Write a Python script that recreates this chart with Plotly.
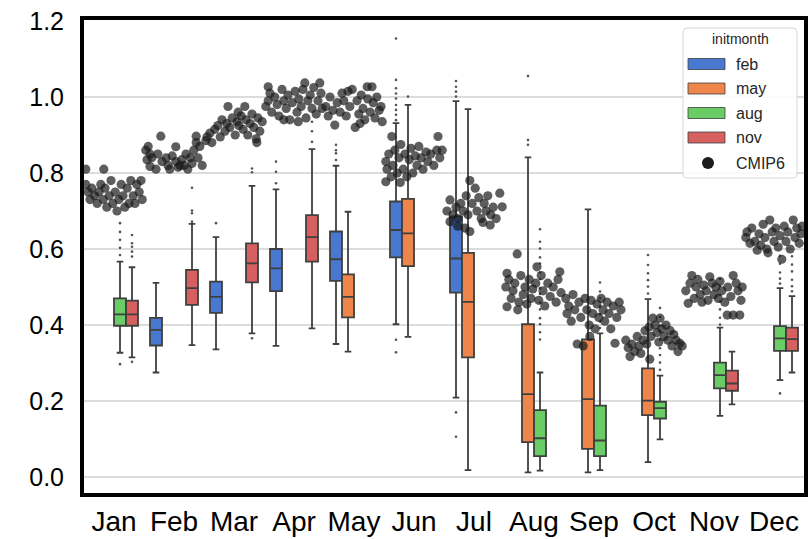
import plotly.graph_objects as go

# ---------------- data ----------------
months = ["Jan", "Feb", "Mar", "Apr", "May", "Jun", "Jul", "Aug", "Sep", "Oct", "Nov", "Dec"]
initmonths = ["feb", "may", "aug", "nov"]
y_ticks = [0.0, 0.2, 0.4, 0.6, 0.8, 1.0, 1.2]

# box statistics per initialisation month
feb_months = ["Feb", "Mar", "Apr", "May", "Jun", "Jul"]
feb_q1 = [0.346, 0.432, 0.489, 0.516, 0.578, 0.485]
feb_med = [0.387, 0.474, 0.549, 0.573, 0.650, 0.575]
feb_q3 = [0.419, 0.514, 0.600, 0.646, 0.725, 0.686]
feb_lo = [0.275, 0.336, 0.345, 0.350, 0.402, 0.209]
feb_hi = [0.511, 0.631, 0.757, 0.819, 0.931, 0.989]

may_months = ["May", "Jun", "Jul", "Aug", "Sep", "Oct"]
may_q1 = [0.420, 0.555, 0.315, 0.092, 0.074, 0.163]
may_med = [0.474, 0.641, 0.461, 0.218, 0.205, 0.201]
may_q3 = [0.533, 0.732, 0.590, 0.402, 0.362, 0.286]
may_lo = [0.330, 0.369, 0.018, 0.012, 0.012, 0.039]
may_hi = [0.698, 0.979, 0.968, 0.841, 0.704, 0.468]

aug_months = ["Jan", "Aug", "Sep", "Oct", "Nov", "Dec"]
aug_q1 = [0.398, 0.055, 0.055, 0.154, 0.233, 0.332]
aug_med = [0.428, 0.102, 0.096, 0.181, 0.268, 0.365]
aug_q3 = [0.470, 0.176, 0.188, 0.198, 0.301, 0.397]
aug_lo = [0.327, 0.017, 0.018, 0.099, 0.161, 0.255]
aug_hi = [0.567, 0.275, 0.378, 0.267, 0.393, 0.497]

nov_months = ["Jan", "Feb", "Mar", "Apr", "Nov", "Dec"]
nov_q1 = [0.398, 0.453, 0.512, 0.567, 0.227, 0.332]
nov_med = [0.428, 0.497, 0.562, 0.631, 0.246, 0.363]
nov_q3 = [0.464, 0.545, 0.615, 0.689, 0.280, 0.393]
nov_lo = [0.315, 0.347, 0.378, 0.391, 0.191, 0.275]
nov_hi = [0.552, 0.666, 0.766, 0.863, 0.330, 0.476]

# outliers (fliers) per initmonth / month
feb_fliers = {
    "Mar": [0.668],
    "Apr": [0.830, 0.803, 0.773],
    "May": [0.874, 0.860, 0.852, 0.834],
    "Jun": [1.154, 1.045, 1.023, 1.009, 0.996, 0.979, 0.966, 0.953, 0.939, 0.361, 0.328],
    "Jul": [1.042, 1.027, 1.014, 1.001, 0.170, 0.106],
}
may_fliers = {
    "Jun": [1.001],
    "Aug": [1.055, 0.887, 0.874],
    "Oct": [0.584, 0.558, 0.536, 0.518, 0.501, 0.483],
}
aug_fliers = {
    "Jan": [0.668, 0.645, 0.624, 0.603, 0.584, 0.297],
    "Aug": [0.652, 0.619, 0.601, 0.578, 0.562, 0.538, 0.521, 0.497, 0.482, 0.459, 0.441, 0.418, 0.402, 0.381, 0.362],
    "Sep": [0.512, 0.488, 0.471, 0.449, 0.428, 0.409, 0.392],
    "Oct": [0.445, 0.421, 0.398, 0.382, 0.361, 0.339, 0.321, 0.301, 0.282],
    "Nov": [0.521, 0.503, 0.479, 0.462, 0.441, 0.419, 0.401],
    "Dec": [0.582, 0.561, 0.538, 0.522, 0.509, 0.220],
}
nov_fliers = {
    "Jan": [0.637, 0.615, 0.606, 0.593, 0.580, 0.303],
    "Feb": [0.761, 0.701, 0.694, 0.672],
    "Mar": [0.812, 0.802, 0.365],
    "Apr": [0.935, 0.910, 0.882],
    "Dec": [0.581, 0.559, 0.541, 0.519, 0.502, 0.489],
}

# CMIP6 points: (jitter offset within month, value)
cmip6 = {
    "Jan": [(-0.47, 0.81), (-0.17, 0.81), (-0.47, 0.77), (-0.43, 0.75), (-0.40, 0.73), (-0.37, 0.76), (-0.32, 0.74),
            (-0.28, 0.72), (-0.25, 0.75), (-0.22, 0.77), (-0.18, 0.73), (-0.15, 0.76), (-0.12, 0.71), (-0.08, 0.74),
            (-0.05, 0.78), (-0.02, 0.72), (0.02, 0.75), (0.05, 0.70), (0.08, 0.73), (0.12, 0.77), (0.15, 0.74),
            (0.18, 0.71), (0.22, 0.76), (0.25, 0.72), (0.28, 0.78), (0.32, 0.74), (0.35, 0.72), (0.38, 0.77),
            (0.42, 0.75), (0.45, 0.78), (0.47, 0.73)],
    "Feb": [(-0.22, 0.897), (0.03, 0.869), (-0.47, 0.86), (-0.43, 0.87), (-0.40, 0.85), (-0.37, 0.84), (-0.45, 0.835),
            (-0.40, 0.817), (-0.30, 0.81), (-0.27, 0.85), (-0.20, 0.83), (-0.13, 0.84), (-0.10, 0.82), (-0.07, 0.81),
            (-0.03, 0.845), (0.03, 0.83), (0.07, 0.815), (0.13, 0.835), (0.17, 0.82), (0.20, 0.85), (0.23, 0.81),
            (0.27, 0.84), (0.30, 0.825), (0.33, 0.86), (0.37, 0.88), (0.40, 0.84), (0.43, 0.87), (0.47, 0.82),
            (0.37, 0.897), (0.10, 0.82)],
    "Mar": [(-0.10, 0.975), (0.18, 0.975), (-0.47, 0.885), (-0.45, 0.895), (-0.40, 0.905), (-0.37, 0.88), (-0.32, 0.915),
            (-0.27, 0.925), (-0.23, 0.895), (-0.20, 0.94), (-0.15, 0.91), (-0.12, 0.93), (-0.07, 0.92), (-0.03, 0.945),
            (0.02, 0.90), (0.05, 0.935), (0.08, 0.925), (0.12, 0.95), (0.15, 0.915), (0.20, 0.94), (0.23, 0.90),
            (0.27, 0.93), (0.30, 0.955), (0.33, 0.92), (0.37, 0.89), (0.40, 0.945), (0.43, 0.91), (0.47, 0.935),
            (0.38, 0.88), (0.07, 0.96)],
    "Apr": [(-0.43, 1.027), (0.18, 1.037), (0.43, 1.037), (-0.47, 0.975), (-0.43, 0.99), (-0.40, 1.01), (-0.37, 0.96),
            (-0.32, 1.00), (-0.28, 0.98), (-0.25, 0.95), (-0.20, 1.02), (-0.17, 0.99), (-0.13, 0.97), (-0.10, 1.005),
            (-0.07, 0.94), (-0.03, 0.985), (0.02, 1.015), (0.05, 0.96), (0.08, 0.995), (0.12, 0.975), (0.15, 1.02),
            (0.20, 0.945), (0.23, 0.99), (0.27, 1.005), (0.30, 0.97), (0.33, 1.025), (0.37, 0.955), (0.40, 0.99),
            (0.45, 1.01), (0.47, 0.97), (0.07, 0.935), (-0.17, 0.94)],
    "May": [(-0.20, 1.01), (-0.03, 1.02), (0.22, 1.027), (0.30, 1.027), (-0.47, 0.975), (-0.43, 0.95), (-0.40, 1.00),
            (-0.35, 0.965), (-0.32, 0.926), (-0.28, 0.985), (-0.23, 0.96), (-0.17, 0.99), (-0.13, 0.95), (-0.10, 1.015),
            (-0.07, 0.975), (0.02, 0.92), (0.05, 0.99), (0.08, 0.955), (0.12, 1.005), (0.15, 0.97), (0.18, 0.94),
            (0.23, 0.995), (0.27, 0.96), (0.32, 0.985), (0.35, 0.945), (0.38, 1.00), (0.42, 0.965), (0.45, 0.975),
            (0.47, 0.935), (0.10, 0.93)],
    "Jun": [(0.40, 0.896), (-0.37, 0.896), (-0.47, 0.777), (-0.47, 0.83), (-0.45, 0.81), (-0.42, 0.85), (-0.38, 0.79),
            (-0.35, 0.82), (-0.32, 0.86), (-0.28, 0.80), (-0.25, 0.84), (-0.22, 0.875), (-0.18, 0.81), (-0.15, 0.85),
            (-0.12, 0.79), (-0.08, 0.835), (-0.05, 0.865), (-0.02, 0.80), (0.02, 0.845), (0.05, 0.82), (0.08, 0.87),
            (0.12, 0.84), (0.15, 0.81), (0.20, 0.855), (0.23, 0.83), (0.28, 0.85), (0.33, 0.82), (0.38, 0.86),
            (0.43, 0.84), (0.47, 0.86), (-0.23, 0.775)],
    "Jul": [(0.43, 0.747), (0.47, 0.711), (-0.07, 0.78), (-0.40, 0.729), (-0.40, 0.672), (-0.07, 0.646), (0.27, 0.663),
            (-0.45, 0.70), (-0.35, 0.69), (-0.30, 0.71), (-0.27, 0.68), (-0.22, 0.72), (-0.18, 0.70), (-0.13, 0.74),
            (-0.10, 0.69), (-0.03, 0.72), (0.02, 0.76), (0.05, 0.70), (0.08, 0.735), (0.12, 0.68), (0.17, 0.72),
            (0.20, 0.70), (0.23, 0.74), (0.28, 0.69), (0.32, 0.71), (0.37, 0.68), (-0.27, 0.66), (-0.15, 0.655),
            (0.15, 0.67)],
    "Aug": [(-0.28, 0.587), (0.05, 0.553), (0.43, 0.54), (-0.45, 0.536), (-0.45, 0.448), (-0.47, 0.50), (-0.42, 0.52),
            (-0.38, 0.47), (-0.35, 0.49), (-0.32, 0.51), (-0.25, 0.46), (-0.22, 0.53), (-0.18, 0.48), (-0.15, 0.50),
            (-0.12, 0.455), (-0.08, 0.52), (-0.05, 0.47), (-0.02, 0.495), (0.03, 0.51), (0.08, 0.465), (0.12, 0.53),
            (0.15, 0.49), (0.18, 0.45), (0.23, 0.51), (0.27, 0.475), (0.32, 0.50), (0.37, 0.46), (0.40, 0.52),
            (0.45, 0.485), (-0.27, 0.44)],
    "Sep": [(-0.47, 0.47), (-0.45, 0.43), (-0.42, 0.45), (-0.38, 0.41), (-0.35, 0.48), (-0.32, 0.44), (-0.28, 0.35),
            (-0.25, 0.46), (-0.22, 0.42), (-0.18, 0.345), (-0.15, 0.47), (-0.12, 0.44), (-0.08, 0.40), (-0.05, 0.465),
            (-0.02, 0.43), (0.02, 0.39), (0.05, 0.455), (0.08, 0.42), (0.12, 0.47), (0.15, 0.44), (0.18, 0.41),
            (0.22, 0.46), (0.25, 0.43), (0.28, 0.39), (0.32, 0.45), (0.35, 0.352), (0.38, 0.42), (0.42, 0.46),
            (0.45, 0.44), (-0.07, 0.37)],
    "Oct": [(-0.02, 0.418), (0.10, 0.418), (-0.40, 0.317), (0.43, 0.352), (-0.18, 0.36), (-0.47, 0.36), (-0.43, 0.34),
            (-0.37, 0.35), (-0.32, 0.33), (-0.28, 0.37), (-0.25, 0.345), (-0.22, 0.325), (-0.15, 0.385), (-0.12, 0.35),
            (-0.08, 0.395), (-0.05, 0.37), (0.02, 0.40), (0.05, 0.38), (0.08, 0.355), (0.13, 0.39), (0.17, 0.37),
            (0.20, 0.40), (0.23, 0.36), (0.27, 0.385), (0.30, 0.345), (0.33, 0.375), (0.37, 0.36), (0.40, 0.33),
            (0.47, 0.345), (-0.07, 0.31)],
    "Nov": [(-0.37, 0.53), (-0.07, 0.527), (0.32, 0.53), (-0.43, 0.457), (0.22, 0.426), (0.32, 0.426), (0.43, 0.426),
            (-0.47, 0.49), (-0.40, 0.51), (-0.33, 0.47), (-0.30, 0.50), (-0.27, 0.52), (-0.23, 0.48), (-0.20, 0.46),
            (-0.17, 0.505), (-0.13, 0.49), (-0.10, 0.465), (-0.03, 0.51), (0.00, 0.48), (0.03, 0.50), (0.07, 0.47),
            (0.10, 0.515), (0.13, 0.49), (0.18, 0.46), (0.23, 0.50), (0.28, 0.475), (0.37, 0.51), (0.40, 0.49),
            (0.45, 0.465), (0.47, 0.50)],
    "Dec": [(-0.07, 0.676), (0.32, 0.676), (-0.45, 0.645), (-0.40, 0.615), (-0.28, 0.597), (0.13, 0.573), (-0.47, 0.63),
            (-0.37, 0.655), (-0.32, 0.62), (-0.25, 0.64), (-0.22, 0.61), (-0.18, 0.665), (-0.15, 0.63), (-0.12, 0.60),
            (-0.03, 0.645), (0.00, 0.62), (0.03, 0.655), (0.07, 0.605), (0.10, 0.635), (0.17, 0.66), (0.20, 0.62),
            (0.23, 0.645), (0.27, 0.60), (0.35, 0.63), (0.38, 0.655), (0.42, 0.615), (0.45, 0.64), (0.47, 0.66),
            (-0.10, 0.59)],
}

# ---------------- styling ----------------
W, H = 810, 539
ML, MR, MT, MB = 84, 6, 20, 46
colors = {"feb": "#4878d0", "may": "#ee854a", "aug": "#6acc64", "nov": "#d65f5f"}
hue_offset = {"feb": -0.3, "may": -0.1, "aug": 0.1, "nov": 0.3}
EDGE = "#3f3f3f"
FONT = "Liberation Sans, Arial, sans-serif"

stats = {
    "feb": (feb_months, feb_q1, feb_med, feb_q3, feb_lo, feb_hi, feb_fliers),
    "may": (may_months, may_q1, may_med, may_q3, may_lo, may_hi, may_fliers),
    "aug": (aug_months, aug_q1, aug_med, aug_q3, aug_lo, aug_hi, aug_fliers),
    "nov": (nov_months, nov_q1, nov_med, nov_q3, nov_lo, nov_hi, nov_fliers),
}

fig = go.Figure()
fx, fy = [], []
for hue in initmonths:
    ms, q1, med, q3, lo, hi, fl = stats[hue]
    xs = [months.index(m) + hue_offset[hue] for m in ms]
    fig.add_trace(go.Box(
        x=xs, q1=q1, median=med, q3=q3, lowerfence=lo, upperfence=hi,
        width=0.2, whiskerwidth=0.55, fillcolor=colors[hue],
        line=dict(color=EDGE, width=1.8), boxpoints=False,
        name=hue, showlegend=False, hoverinfo="skip",
    ))
    for m, vals in fl.items():
        for v in vals:
            fx.append(months.index(m) + hue_offset[hue])
            fy.append(v)

fig.add_trace(go.Scatter(x=fx, y=fy, mode="markers",
                         marker=dict(size=2.6, color="#555555"),
                         showlegend=False, hoverinfo="skip"))

cx, cy = [], []
for m in months:
    for off, v in cmip6[m]:
        cx.append(months.index(m) + off)
        cy.append(v)
fig.add_trace(go.Scatter(x=cx, y=cy, mode="markers", name="CMIP6",
                         marker=dict(size=9.2, color="#1a1a1a", opacity=0.7, line=dict(width=0)),
                         showlegend=False, hoverinfo="skip"))

# ---------------- manual legend (seaborn-like) ----------------
PW, PH = W - ML - MR, H - MT - MB
def px(x): return (x - ML) / PW
def py(y): return (H - MB - y) / PH

def rounded_rect(x0, y0, x1, y1, r):
    X0, X1 = px(x0), px(x1)
    Y0, Y1 = py(y0), py(y1)   # Y0 top (larger), Y1 bottom
    rx, ry = r / PW, r / PH
    return (f"M {X0+rx},{Y0} L {X1-rx},{Y0} Q {X1},{Y0} {X1},{Y0-ry} "
            f"L {X1},{Y1+ry} Q {X1},{Y1} {X1-rx},{Y1} L {X0+rx},{Y1} "
            f"Q {X0},{Y1} {X0},{Y1+ry} L {X0},{Y0-ry} Q {X0},{Y0} {X0+rx},{Y0} Z")

shapes = [dict(type="path", xref="paper", yref="paper",
               path=rounded_rect(683, 28, 797, 178, 4),
               fillcolor="rgba(255,255,255,0.85)", line=dict(color="#d8d8d8", width=1))]
annotations = [dict(text="initmonth", x=px(740), y=py(39), xref="paper", yref="paper",
                    showarrow=False, xanchor="center", yanchor="middle",
                    font=dict(family=FONT, size=14, color="#262626"))]
entry_y = [64, 88.5, 113, 137.5]
for hue, ey in zip(initmonths, entry_y):
    shapes.append(dict(type="rect", xref="paper", yref="paper",
                       x0=px(688), x1=px(725), y0=py(ey - 5.5), y1=py(ey + 5.5),
                       fillcolor=colors[hue], line=dict(color=EDGE, width=0.8)))
    annotations.append(dict(text=hue, x=px(734), y=py(ey), xref="paper", yref="paper",
                            showarrow=False, xanchor="left", yanchor="middle",
                            font=dict(family=FONT, size=16, color="#262626")))
shapes.append(dict(type="circle", xref="paper", yref="paper",
                   x0=px(702), x1=px(714), y0=py(157), y1=py(169),
                   fillcolor="#1c1c1c", line=dict(width=0)))
annotations.append(dict(text="CMIP6", x=px(734), y=py(163), xref="paper", yref="paper",
                        showarrow=False, xanchor="left", yanchor="middle",
                        font=dict(family=FONT, size=16, color="#262626")))

fig.update_layout(
    width=W, height=H,
    margin=dict(l=ML, r=MR, t=MT, b=MB, pad=0, autoexpand=False),
    paper_bgcolor="white", plot_bgcolor="white",
    boxmode="overlay",
    shapes=shapes, annotations=annotations,
    xaxis=dict(range=[-0.5, 11.5], tickmode="array", tickvals=list(range(12)), ticktext=months,
               showgrid=False, zeroline=False, showline=True, mirror=True, automargin=False,
               linecolor="black", linewidth=4, ticks="", ticklabelstandoff=0,
               tickfont=dict(family=FONT, size=28, color="black")),
    yaxis=dict(range=[-0.0421, 1.2026], tickmode="array", tickvals=y_ticks,
               ticktext=[f"{v:.1f}" for v in y_ticks], automargin=False,
               showgrid=True, gridcolor="#dcdcdc", gridwidth=1.5, zeroline=False,
               showline=True, mirror=True, linecolor="black", linewidth=4,
               ticks="", ticklabelstandoff=11,
               tickfont=dict(family=FONT, size=25, color="black")),
)

fig.write_html("out.html")
